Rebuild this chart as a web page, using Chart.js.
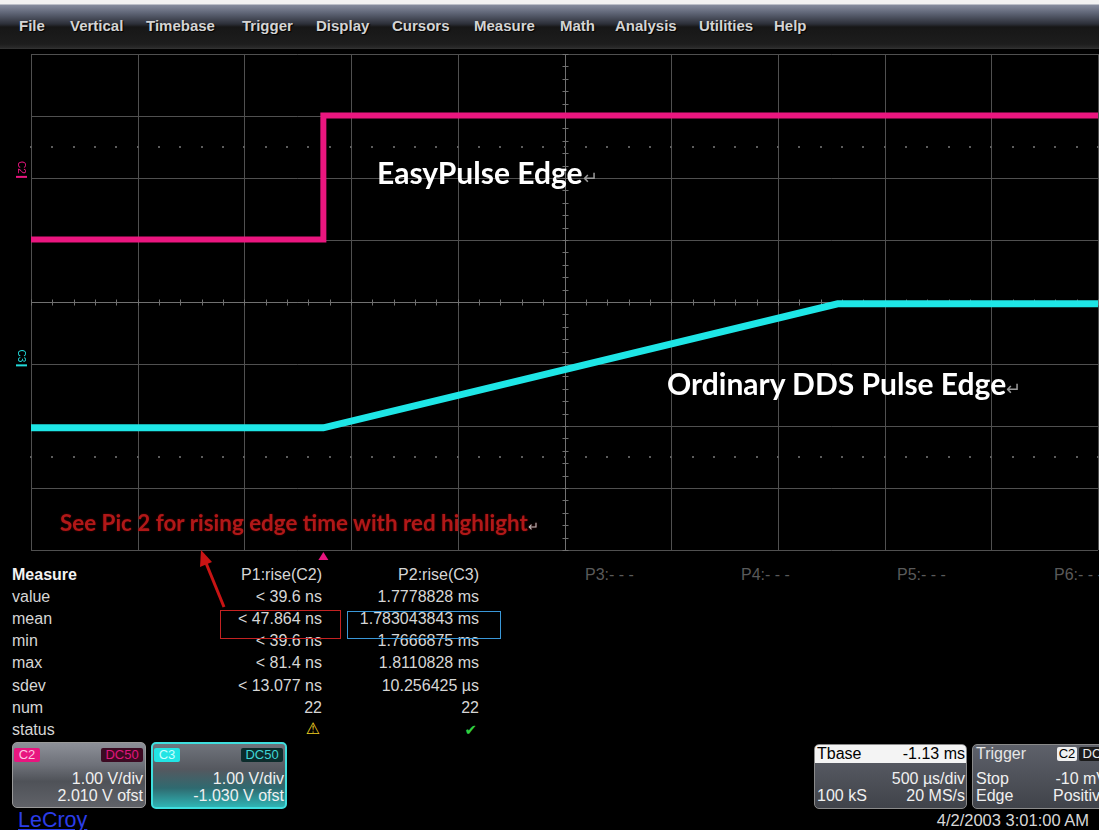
<!DOCTYPE html>
<html>
<head>
<meta charset="utf-8">
<script src="https://cdn.jsdelivr.net/npm/chart.js@4.4.1/dist/chart.umd.min.js"></script>
<style>
  body { margin: 0; width: 1099px; height: 830px; overflow: hidden; position: relative; background: #000;
         font-family: "Liberation Sans", Arial, sans-serif; }
  .abs { position: absolute; white-space: nowrap; }
  #menubar { left: 0; top: 0; width: 1099px; height: 49px;
    background: linear-gradient(to bottom, #f2f2f2 0px, #f2f2f2 4px, #868c9e 5px, #5f6576 13px, #2c2f38 24px, #171717 27px, #1d1d1d 44px, #2b2b2b 48px, #3a3a3a 49px); }
  .menu { top: 17px; font-size: 15px; font-weight: bold; color: #d4d4d4; text-shadow: 1px 1px 1px #000; }
  .note { font-family: Lato, "Open Sans", sans-serif; font-weight: bold; line-height: 1; }
  .ret { font-weight: normal; color: #9a9a9a; font-size: 0.6em; }
  .cell { font-size: 16px; color: #d6d6d6; line-height: 16px; }
  .r { text-align: right; }
  .box { border-radius: 5px; overflow: hidden; }
  .tag { position: absolute; font-size: 13px; line-height: 14px; text-align: center; border-radius: 2px; }
  .bt { position: absolute; font-size: 16px; color: #f0f0f0; line-height: 16px; white-space: nowrap; }
</style>
</head>
<body>
<div id="menubar" class="abs"></div>

<canvas id="scope" class="abs" width="1099" height="520" style="left:0;top:44px;width:1099px;height:520px"></canvas>

<div class="abs note" style="left:377px;top:157px;font-size:30px;color:#fff">EasyPulse Edge<span class="ret">↵</span></div>
<div class="abs note" style="left:667px;top:368px;font-size:30px;color:#fff">Ordinary DDS Pulse Edge<span class="ret">↵</span></div>
<div class="abs note" style="left:60px;top:512px;font-size:22.4px;color:#b01818;text-shadow:0 0 2px #600000">See Pic 2 for rising edge time with red highlight<span class="ret" style="color:#bbb">↵</span></div>

<div id="measure"></div>

<!-- channel / timebase boxes -->
<div class="abs box" style="left:12px;top:742px;width:132px;height:64px;border:1px solid #9a9a9a;background:linear-gradient(to bottom,#8d9098 0%,#6d7078 35%,#4f5258 60%,#606268 100%)">
  <div class="tag" style="left:1px;top:5px;width:26px;background:#e8157f;color:#ffc4e2">C2</div>
  <div class="tag" style="right:2px;top:5px;width:42px;background:#3c0a22;color:#e0157e">DC50</div>
  <div class="bt" style="right:2px;top:28px">1.00 V/div</div>
  <div class="bt" style="right:2px;top:45px">2.010 V ofst</div>
</div>
<div class="abs box" style="left:151px;top:742px;width:132px;height:63px;border:2px solid #3fdede;background:linear-gradient(to bottom,#70747c 0%,#55585f 40%,#2f6a70 70%,#2fb4b4 100%)">
  <div class="tag" style="left:1px;top:4px;width:26px;background:#22e4e4;color:#c8ffff">C3</div>
  <div class="tag" style="right:2px;top:4px;width:42px;background:#0c2c2c;color:#3fd6d6">DC50</div>
  <div class="bt" style="right:1px;top:27px">1.00 V/div</div>
  <div class="bt" style="right:1px;top:44px">-1.030 V ofst</div>
</div>
<div class="abs" style="left:18px;top:808px;font-size:21.5px;color:#2b3de8;text-decoration:underline">LeCroy</div>

<div class="abs box" style="left:814px;top:744px;width:151px;height:63px;border:1px solid #8a8a8a;background:linear-gradient(to bottom,#5e616a,#40434a)">
  <div style="position:absolute;left:0;top:0;width:151px;height:18px;background:#f4f4f4"></div>
  <div class="bt" style="left:2px;top:1px;color:#000">Tbase</div>
  <div class="bt" style="right:1px;top:1px;color:#000">-1.13 ms</div>
  <div class="bt" style="right:1px;top:26px">500 µs/div</div>
  <div class="bt" style="left:2px;top:43px">100 kS</div>
  <div class="bt" style="right:1px;top:43px">20 MS/s</div>
</div>
<div class="abs box" style="left:972px;top:744px;width:140px;height:63px;border:1px solid #8a8a8a;background:linear-gradient(to bottom,#5e616a,#40434a)">
  <div class="bt" style="left:3px;top:1px;color:#e6e6e6">Trigger</div>
  <div class="tag" style="left:84px;top:2px;width:20px;background:#f0f0f0;color:#000">C2</div>
  <div class="tag" style="left:106px;top:2px;width:26px;background:#1a1a1a;color:#eee">DC</div>
  <div class="bt" style="left:3px;top:26px">Stop</div>
  <div class="bt" style="right:6px;top:26px">-10 mV</div>
  <div class="bt" style="left:3px;top:43px">Edge</div>
  <div class="bt" style="right:4px;top:43px">Positive</div>
</div>
<div class="abs" style="right:10px;top:811px;font-size:16.5px;color:#d8d8d8">4/2/2003 3:01:00 AM</div>

<svg class="abs" style="left:0;top:0;pointer-events:none" width="1099" height="830">
  <line x1="224" y1="607" x2="206" y2="563" stroke="#c81414" stroke-width="3"/>
  <polygon points="201,550 212,562 200,567" fill="#c81414"/>
</svg>

<script>
// 菜单
const menuItems = ["File", "Vertical", "Timebase", "Trigger", "Display", "Cursors", "Measure", "Math", "Analysis", "Utilities", "Help"];
const menuLeft = [19, 70, 146, 242, 316, 392, 474, 560, 615, 699, 774];

// 时基 / 通道设置
const usPerDiv = 500;
const centreUs = 1130;
const xMin = centreUs - 5 * usPerDiv;
const xMax = centreUs + 5 * usPerDiv;
const voltsPerDiv = 1.0;
const offsetC2 = 2.01;
const offsetC3 = -1.03;

// 波形 (µs, V)
const timeC2 = [-1370, 0, 0, 3630];
const voltsC2 = [-1.0, -1.0, 1.0, 1.0];
const timeC3 = [-1370, 0, 2410, 3630];
const voltsC3 = [-1.0, -1.0, 1.0, 1.0];

// 测量表
const measureRows = ["value", "mean", "min", "max", "sdev", "num", "status"];
const p1Text = ["< 39.6 ns", "< 47.864 ns", "< 39.6 ns", "< 81.4 ns", "< 13.077 ns", "22", "warn"];
const p2Text = ["1.7778828 ms", "1.783043843 ms", "1.7666875 ms", "1.8110828 ms", "10.256425 µs", "22", "ok"];
const emptyParams = ["P3:- - -", "P4:- - -", "P5:- - -", "P6:- - -"];
const emptyLeft = [585, 741, 897, 1054];

const bar = document.getElementById("menubar");
menuItems.forEach(function (m, i) {
  const d = document.createElement("div");
  d.className = "abs menu";
  d.style.left = menuLeft[i] + "px";
  d.textContent = m;
  bar.appendChild(d);
});

const meas = document.getElementById("measure");
function cell(text, left, right, top, style) {
  const d = document.createElement("div");
  d.className = "abs cell" + (right != null ? " r" : "");
  if (left != null) d.style.left = left + "px";
  if (right != null) d.style.right = (1099 - right) + "px";
  d.style.top = top + "px";
  if (style) d.style.cssText += style;
  d.textContent = text;
  meas.appendChild(d);
  return d;
}
const rowTop = 567;
const rowStep = 22.1;
cell("Measure", 12, null, rowTop, "font-weight:bold;color:#f2f2f2");
cell("P1:rise(C2)", null, 322, rowTop);
cell("P2:rise(C3)", null, 479, rowTop);
emptyParams.forEach(function (p, i) { cell(p, emptyLeft[i], null, rowTop, "color:#5a5a5a"); });
measureRows.forEach(function (r, i) {
  const top = rowTop + (i + 1) * rowStep;
  cell(r, 12, null, top);
  if (p1Text[i] === "warn") {
    cell("⚠", null, 320, top - 1, "color:#f0d020;font-family:'DejaVu Sans';font-size:16px");
  } else {
    cell(p1Text[i], null, 322, top);
  }
  if (p2Text[i] === "ok") {
    cell("✔", null, 477, top, "color:#30d040;font-family:'DejaVu Sans';font-size:15px");
  } else {
    cell(p2Text[i], null, 479, top);
  }
});
// 高亮框
const redBox = document.createElement("div");
redBox.className = "abs";
redBox.style.cssText = "left:220px;top:610px;width:119px;height:27px;border:1.5px solid #c42222";
meas.appendChild(redBox);
const blueBox = document.createElement("div");
blueBox.className = "abs";
blueBox.style.cssText = "left:347px;top:611px;width:152px;height:26px;border:1.5px solid #3a98d8";
meas.appendChild(blueBox);

// 网格
const scopeGrid = {
  id: "scopeGrid",
  beforeDatasetsDraw(chart) {
    const { ctx, chartArea: a } = chart;
    const x = chart.scales.x;
    const g = chart.scales.yDiv;
    const cx = Math.round(x.getPixelForValue(centreUs)) + 0.5;
    const cy = Math.round(g.getPixelForValue(0)) + 0.5;
    function line(x1, y1, x2, y2) {
      ctx.beginPath();
      ctx.moveTo(x1, y1);
      ctx.lineTo(x2, y2);
      ctx.stroke();
    }
    ctx.save();
    ctx.lineWidth = 1;
    ctx.strokeStyle = "#505050";
    for (let i = 0; i <= 10; i++) {
      const px = Math.round(x.getPixelForValue(xMin + i * usPerDiv)) + 0.5;
      line(px, a.top, px, a.bottom);
    }
    for (let j = -4; j <= 4; j++) {
      const py = Math.round(g.getPixelForValue(j)) + 0.5;
      line(a.left, py, a.right, py);
    }
    ctx.strokeStyle = "#707070";
    line(cx, a.top, cx, a.bottom);
    line(a.left, cy, a.right, cy);
    for (let k = 0; k <= 50; k++) {
      const px = Math.round(x.getPixelForValue(xMin + k * usPerDiv / 5)) + 0.5;
      line(px, cy - 3, px, cy + 3);
    }
    for (let k = -20; k <= 20; k++) {
      const py = Math.round(g.getPixelForValue(k / 5)) + 0.5;
      line(cx - 3, py, cx + 3, py);
    }
    ctx.fillStyle = "#5c5c5c";
    [2.5, -2.5].forEach(function (d) {
      const py = Math.round(g.getPixelForValue(d));
      for (let k = 0; k <= 50; k++) {
        const px = Math.round(x.getPixelForValue(xMin + k * usPerDiv / 5));
        ctx.fillRect(px - 1, py - 1, 2, 2);
      }
    });
    ctx.restore();
  },
  afterDraw(chart) {
    const { ctx, chartArea: a } = chart;
    const x = chart.scales.x;
    ctx.save();
    // 触发点
    const tx = x.getPixelForValue(0);
    ctx.fillStyle = "#e8157f";
    ctx.beginPath();
    ctx.moveTo(tx, a.bottom + 2);
    ctx.lineTo(tx - 5, a.bottom + 10);
    ctx.lineTo(tx + 5, a.bottom + 10);
    ctx.closePath();
    ctx.fill();
    // 通道零点标记
    [["C2", chart.scales.yC2, "#e8157f"], ["C3", chart.scales.yC3, "#22dada"]].forEach(function (c) {
      const gy = c[1].getPixelForValue(0);
      ctx.fillStyle = c[2];
      ctx.fillRect(16, gy - 1.5, 11, 2);
      ctx.save();
      ctx.translate(21, gy - 10);
      ctx.rotate(Math.PI / 2);
      ctx.font = "10px 'Liberation Sans'";
      ctx.textAlign = "center";
      ctx.textBaseline = "middle";
      ctx.fillText(c[0], 0, 0);
      ctx.restore();
    });
    ctx.restore();
  },
};

const ctx = document.getElementById("scope").getContext("2d");
new Chart(ctx, {
  type: "line",
  data: {
    datasets: [
      {
        label: "C2",
        data: timeC2.map(function (t, i) { return { x: t, y: voltsC2[i] }; }),
        yAxisID: "yC2",
        borderColor: "#ea167f",
        borderWidth: 6,
        pointRadius: 0,
        tension: 0,
        borderJoinStyle: "miter",
      },
      {
        label: "C3",
        data: timeC3.map(function (t, i) { return { x: t, y: voltsC3[i] }; }),
        yAxisID: "yC3",
        borderColor: "#1ee6e6",
        borderWidth: 7,
        pointRadius: 0,
        tension: 0,
      },
    ],
  },
  options: {
    responsive: false,
    animation: false,
    devicePixelRatio: 1,
    layout: { padding: { left: 31, right: 1, top: 10, bottom: 14 } },
    plugins: { legend: { display: false }, tooltip: { enabled: false } },
    scales: {
      x: { type: "linear", min: xMin, max: xMax, display: false },
      yC2: { type: "linear", axis: "y", min: (-4 - offsetC2) * voltsPerDiv, max: (4 - offsetC2) * voltsPerDiv, display: false },
      yC3: { type: "linear", axis: "y", min: (-4 - offsetC3) * voltsPerDiv, max: (4 - offsetC3) * voltsPerDiv, display: false },
      yDiv: { type: "linear", axis: "y", min: -4, max: 4, display: false },
    },
  },
  plugins: [scopeGrid],
});
</script>
</body>
</html>
